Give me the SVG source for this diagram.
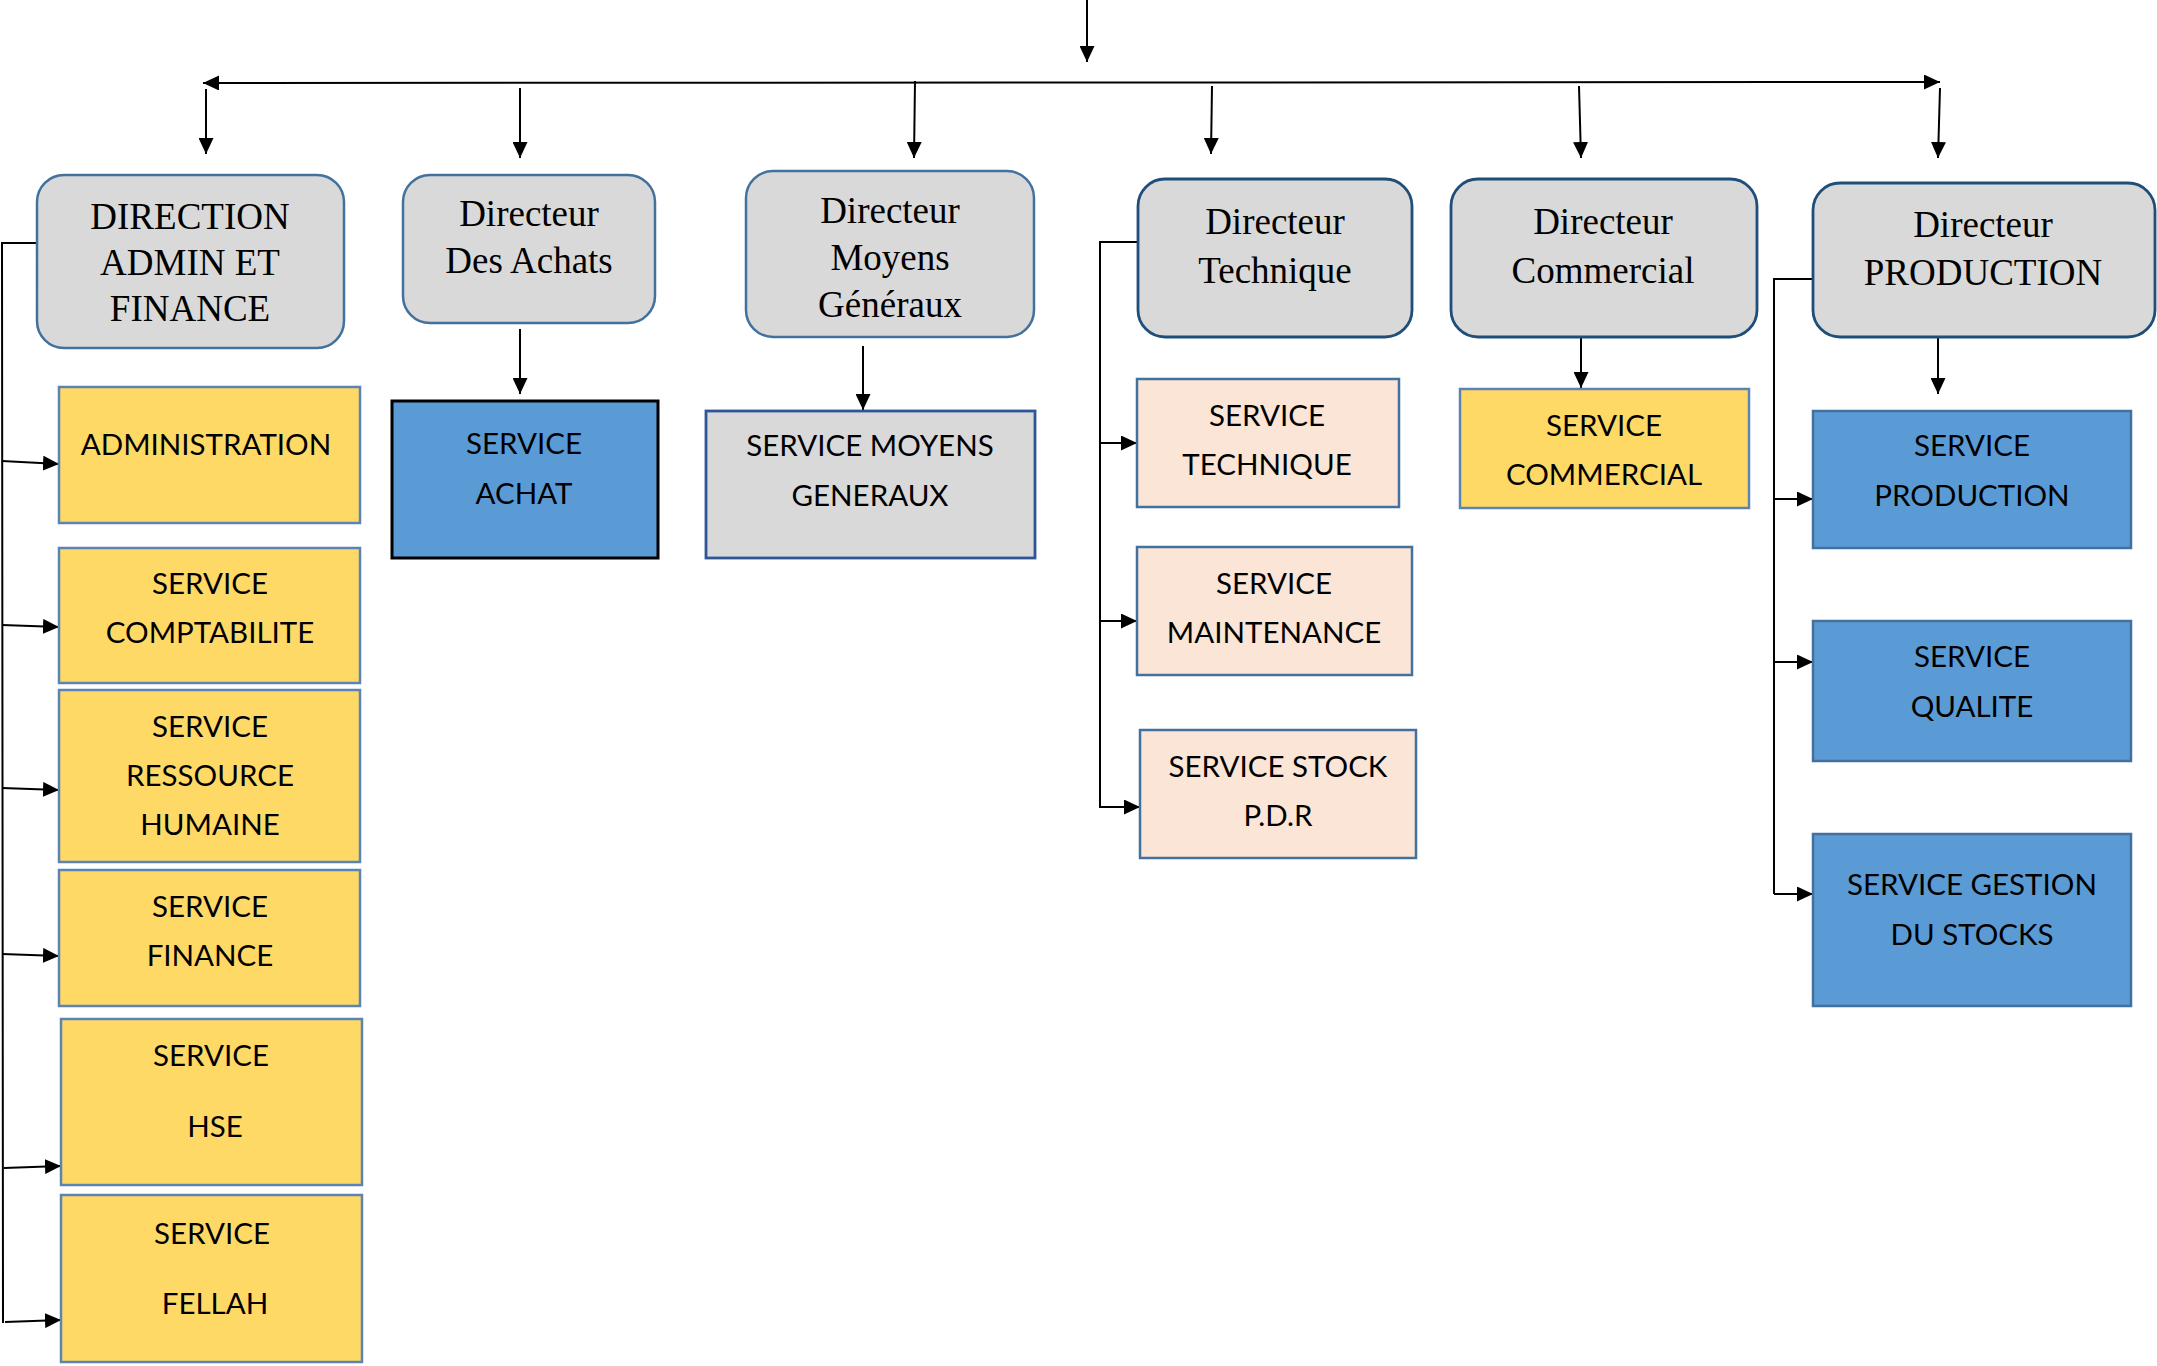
<svg xmlns="http://www.w3.org/2000/svg" width="2157" height="1366" viewBox="0 0 2157 1366">
  <style>
    .dir { fill: #D9D9D9; stroke: #41719C; stroke-width: 2.5; }
    .dir-dark { fill: #D9D9D9; stroke: #1F4E79; stroke-width: 2.8; }
    .dt { font-family: "Liberation Serif", "Times New Roman", serif; font-size: 37px; fill: #000; text-anchor: middle; }
    .st { font-family: Lato, "Liberation Sans", sans-serif; font-size: 29.5px; fill: #000; text-anchor: middle; }
    .yellow { fill: #FFD966; stroke: #5B84B5; stroke-width: 2.5; }
    .peach { fill: #FBE5D6; stroke: #41719C; stroke-width: 2.5; }
    .blue { fill: #5B9BD5; stroke: #41719C; stroke-width: 2.5; }
    .grey { fill: #D9D9D9; stroke: #2F5597; stroke-width: 2.8; }
    .achat { fill: #5B9BD5; stroke: #000; stroke-width: 3; }
    .ln { fill: none; stroke: #000; stroke-width: 2; }
    .ar { fill: none; stroke: #000; stroke-width: 2; marker-end: url(#head); }
  </style>
  <defs>
    <marker id="head" viewBox="0 0 16 15" refX="16" refY="7.5" markerWidth="16" markerHeight="15" markerUnits="userSpaceOnUse" orient="auto-start-reverse">
      <path d="M0,0 L16,7.5 L0,15 z" fill="#000"/>
    </marker>
  </defs>

  <!-- connectors -->
  <g id="connectors">
    <!-- top level -->
    <line class="ar" x1="1087" y1="0" x2="1087" y2="62"/>
    <line class="ln" x1="203" y1="83" x2="1940" y2="82" marker-start="url(#head)" marker-end="url(#head)"/>
    <line class="ar" x1="206" y1="89" x2="206" y2="154"/>
    <line class="ar" x1="520" y1="88" x2="520" y2="158"/>
    <line class="ar" x1="915" y1="81" x2="914" y2="158"/>
    <line class="ar" x1="1212" y1="86" x2="1211" y2="154"/>
    <line class="ar" x1="1579" y1="86" x2="1581" y2="158"/>
    <line class="ar" x1="1940" y1="88" x2="1938" y2="158"/>

    <!-- admin & finance branch -->
    <polyline class="ln" points="37,243 2,243 3,1323"/>
    <line class="ar" x1="2" y1="461" x2="59" y2="464"/>
    <line class="ar" x1="2" y1="625" x2="59" y2="627"/>
    <line class="ar" x1="2" y1="788" x2="59" y2="790"/>
    <line class="ar" x1="2" y1="954" x2="59" y2="956"/>
    <line class="ar" x1="4" y1="1168" x2="61" y2="1166"/>
    <line class="ar" x1="5" y1="1322" x2="61" y2="1320"/>

    <!-- achats, moyens generaux, commercial -->
    <line class="ar" x1="520" y1="329" x2="520" y2="394"/>
    <line class="ar" x1="863" y1="346" x2="863" y2="410"/>
    <line class="ar" x1="1581" y1="338" x2="1581" y2="388"/>

    <!-- technique branch -->
    <polyline class="ln" points="1138,242 1100,242 1100,808"/>
    <line class="ar" x1="1100" y1="443" x2="1137" y2="443"/>
    <line class="ar" x1="1100" y1="621" x2="1137" y2="621"/>
    <line class="ar" x1="1100" y1="807" x2="1140" y2="807"/>

    <!-- production branch -->
    <line class="ar" x1="1938" y1="329" x2="1938" y2="394"/>
    <polyline class="ln" points="1813,279 1774,279 1774,894"/>
    <line class="ar" x1="1774" y1="499" x2="1813" y2="499"/>
    <line class="ar" x1="1774" y1="662" x2="1813" y2="662"/>
    <line class="ar" x1="1774" y1="894" x2="1813" y2="894"/>
  </g>

  <!-- directors -->
  <g id="dir-admin">
    <rect class="dir" x="37" y="175" width="307" height="173" rx="27"/>
    <text class="dt" x="190" y="229">DIRECTION</text>
    <text class="dt" x="190" y="275">ADMIN ET</text>
    <text class="dt" x="190" y="321">FINANCE</text>
  </g>
  <g id="dir-achats">
    <rect class="dir" x="403" y="175" width="252" height="148" rx="27"/>
    <text class="dt" x="529" y="226">Directeur</text>
    <text class="dt" x="529" y="273">Des Achats</text>
  </g>
  <g id="dir-moyens">
    <rect class="dir" x="746" y="171" width="288" height="166" rx="27"/>
    <text class="dt" x="890" y="223">Directeur</text>
    <text class="dt" x="890" y="270">Moyens</text>
    <text class="dt" x="890" y="317">Généraux</text>
  </g>
  <g id="dir-technique">
    <rect class="dir-dark" x="1138" y="179" width="274" height="158" rx="27"/>
    <text class="dt" x="1275" y="234">Directeur</text>
    <text class="dt" x="1275" y="283">Technique</text>
  </g>
  <g id="dir-commercial">
    <rect class="dir-dark" x="1451" y="179" width="306" height="158" rx="27"/>
    <text class="dt" x="1603" y="234">Directeur</text>
    <text class="dt" x="1603" y="283">Commercial</text>
  </g>
  <g id="dir-production">
    <rect class="dir-dark" x="1813" y="183" width="342" height="154" rx="27"/>
    <text class="dt" x="1983" y="237">Directeur</text>
    <text class="dt" x="1983" y="285">PRODUCTION</text>
  </g>

  <!-- admin & finance services -->
  <g id="svc-administration">
    <rect class="yellow" x="59" y="387" width="301" height="136"/>
    <text class="st" x="206" y="455">ADMINISTRATION</text>
  </g>
  <g id="svc-comptabilite">
    <rect class="yellow" x="59" y="548" width="301" height="135"/>
    <text class="st" x="210" y="594">SERVICE</text>
    <text class="st" x="210" y="643">COMPTABILITE</text>
  </g>
  <g id="svc-rh">
    <rect class="yellow" x="59" y="690" width="301" height="172"/>
    <text class="st" x="210" y="737">SERVICE</text>
    <text class="st" x="210" y="786">RESSOURCE</text>
    <text class="st" x="210" y="835">HUMAINE</text>
  </g>
  <g id="svc-finance">
    <rect class="yellow" x="59" y="870" width="301" height="136"/>
    <text class="st" x="210" y="917">SERVICE</text>
    <text class="st" x="210" y="966">FINANCE</text>
  </g>
  <g id="svc-hse">
    <rect class="yellow" x="61" y="1019" width="301" height="166"/>
    <text class="st" x="211" y="1066">SERVICE</text>
    <text class="st" x="215" y="1137">HSE</text>
  </g>
  <g id="svc-fellah">
    <rect class="yellow" x="61" y="1195" width="301" height="167"/>
    <text class="st" x="212" y="1244">SERVICE</text>
    <text class="st" x="215" y="1314">FELLAH</text>
  </g>

  <!-- achats -->
  <g id="svc-achat">
    <rect class="achat" x="392" y="401" width="266" height="157"/>
    <text class="st" x="524" y="454">SERVICE</text>
    <text class="st" x="524" y="504">ACHAT</text>
  </g>

  <!-- moyens generaux -->
  <g id="svc-moyens">
    <rect class="grey" x="706" y="411" width="329" height="147"/>
    <text class="st" x="870" y="456">SERVICE MOYENS</text>
    <text class="st" x="870" y="506">GENERAUX</text>
  </g>

  <!-- technique -->
  <g id="svc-technique">
    <rect class="peach" x="1137" y="379" width="262" height="128"/>
    <text class="st" x="1267" y="426">SERVICE</text>
    <text class="st" x="1267" y="475">TECHNIQUE</text>
  </g>
  <g id="svc-maintenance">
    <rect class="peach" x="1137" y="547" width="275" height="128"/>
    <text class="st" x="1274" y="594">SERVICE</text>
    <text class="st" x="1274" y="643">MAINTENANCE</text>
  </g>
  <g id="svc-stock-pdr">
    <rect class="peach" x="1140" y="730" width="276" height="128"/>
    <text class="st" x="1278" y="777">SERVICE STOCK</text>
    <text class="st" x="1278" y="826">P.D.R</text>
  </g>

  <!-- commercial -->
  <g id="svc-commercial">
    <rect class="yellow" x="1460" y="389" width="289" height="119"/>
    <text class="st" x="1604" y="436">SERVICE</text>
    <text class="st" x="1604" y="485">COMMERCIAL</text>
  </g>

  <!-- production -->
  <g id="svc-production">
    <rect class="blue" x="1813" y="411" width="318" height="137"/>
    <text class="st" x="1972" y="456">SERVICE</text>
    <text class="st" x="1972" y="506">PRODUCTION</text>
  </g>
  <g id="svc-qualite">
    <rect class="blue" x="1813" y="621" width="318" height="140"/>
    <text class="st" x="1972" y="667">SERVICE</text>
    <text class="st" x="1972" y="717">QUALITE</text>
  </g>
  <g id="svc-gestion-stocks">
    <rect class="blue" x="1813" y="834" width="318" height="172"/>
    <text class="st" x="1972" y="895">SERVICE GESTION</text>
    <text class="st" x="1972" y="945">DU STOCKS</text>
  </g>
</svg>
